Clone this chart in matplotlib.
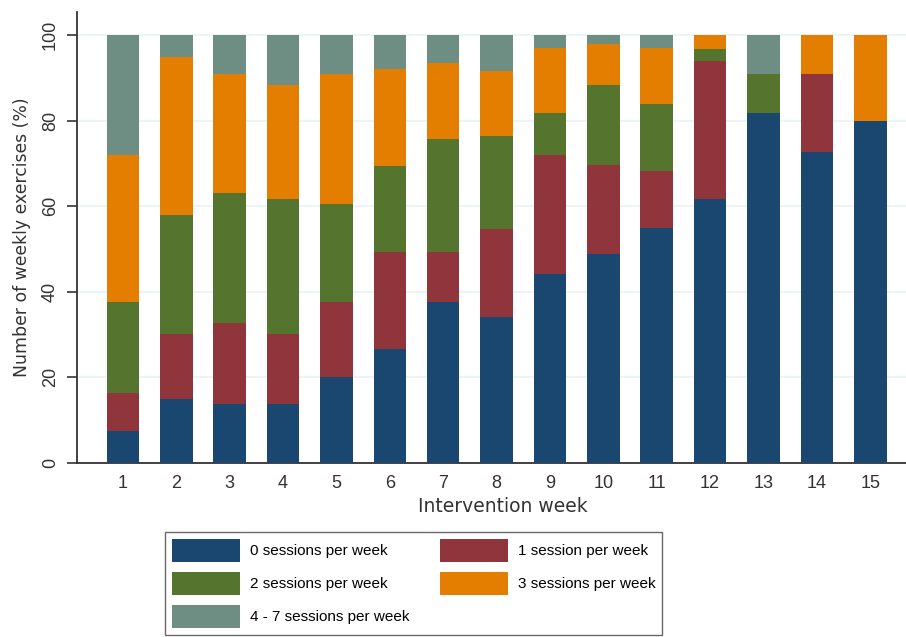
import numpy as np
import matplotlib
matplotlib.use("Agg")
import matplotlib.pyplot as plt

# share of weekly exercises (%) by number of sessions, weeks 1-15
weeks = np.arange(1, 16)
zero = [7.4, 15.0, 13.7, 13.7, 20.0, 26.5, 37.6, 34.1, 44.1, 48.8, 55.0, 61.6, 81.8, 72.7, 80.0]
one = [8.8, 15.2, 19.0, 16.5, 17.6, 22.7, 11.6, 20.5, 27.8, 20.8, 13.3, 32.3, 0, 18.2, 0]
two = [21.4, 27.7, 30.4, 31.5, 23.0, 20.2, 26.5, 21.9, 9.8, 18.7, 15.6, 2.9, 9.1, 0, 0]
three = [34.3, 36.9, 27.9, 26.7, 30.4, 22.7, 17.8, 15.2, 15.4, 9.6, 13.2, 3.2, 0, 9.1, 20.0]
four_seven = [28.1, 5.2, 9.0, 11.6, 9.0, 7.9, 6.5, 8.3, 2.9, 2.1, 2.9, 0, 9.1, 0, 0]

series = [zero, one, two, three, four_seven]
labels = ["0 sessions per week", "1 session per week", "2 sessions per week",
          "3 sessions per week", "4 - 7 sessions per week"]
colors = ["#1a476f", "#90353b", "#55752f", "#e37e00", "#6e8e84"]

fig = plt.figure(figsize=(9.06, 6.37), dpi=100)
ax = fig.add_axes([0.085, 0.2736, 0.915, 0.7075])

bottom = np.zeros(len(weeks))
handles = []
for vals, lab, col in zip(series, labels, colors):
    vals = np.array(vals, dtype=float)
    h = ax.bar(weeks, vals, width=0.61, bottom=bottom, color=col, label=lab,
               linewidth=0, zorder=3)
    handles.append(h)
    bottom += vals

ax.set_xlim(0.14, 15.67)
ax.set_ylim(0, 105.4)
ax.set_yticks([0, 20, 40, 60, 80, 100])
ax.set_xticks(weeks)
ax.yaxis.grid(True, color="#eaf2f3", linewidth=1.2, zorder=0)
ax.set_axisbelow(True)

for side in ["top", "right"]:
    ax.spines[side].set_visible(False)
for side in ["left", "bottom"]:
    ax.spines[side].set_color("#333333")
    ax.spines[side].set_linewidth(1.3)

tick_font = dict(family=["Liberation Sans", "DejaVu Sans"], size=13)
ax.tick_params(axis="y", length=7, width=1.2, color="#333333", pad=6)
ax.tick_params(axis="x", length=0, pad=9)
for t in ax.get_yticklabels():
    t.set(**tick_font, rotation=90, va="center", color="#333333")
for t in ax.get_xticklabels():
    t.set(**tick_font, color="#333333")

ax.set_ylabel("Number of weekly exercises (%)", fontsize=12.4, color="#333333",
              family="DejaVu Sans", labelpad=8)
ax.set_xlabel("Intervention week", fontsize=13.5, color="#333333",
              family="DejaVu Sans", labelpad=4)
ax.xaxis.set_label_coords(0.514, -0.075)

# legend laid out row by row: 0 | 1, 2 | 3, 4-7
order = [0, 2, 4, 1, 3]
leg = fig.legend([handles[i] for i in order], [labels[i] for i in order],
                 ncol=2, loc="upper left", bbox_to_anchor=(165 / 906, 1 - 532 / 637),
                 borderaxespad=0,
                 prop=dict(family=["Liberation Sans", "DejaVu Sans"], size=11),
                 handlelength=4.45, handleheight=1.94, handletextpad=0.65,
                 columnspacing=2.0, labelspacing=0.65, borderpad=0.45,
                 fancybox=False, frameon=True, edgecolor="#444444")
leg.get_frame().set_linewidth(1.0)

fig.savefig("out.png", dpi=100)
